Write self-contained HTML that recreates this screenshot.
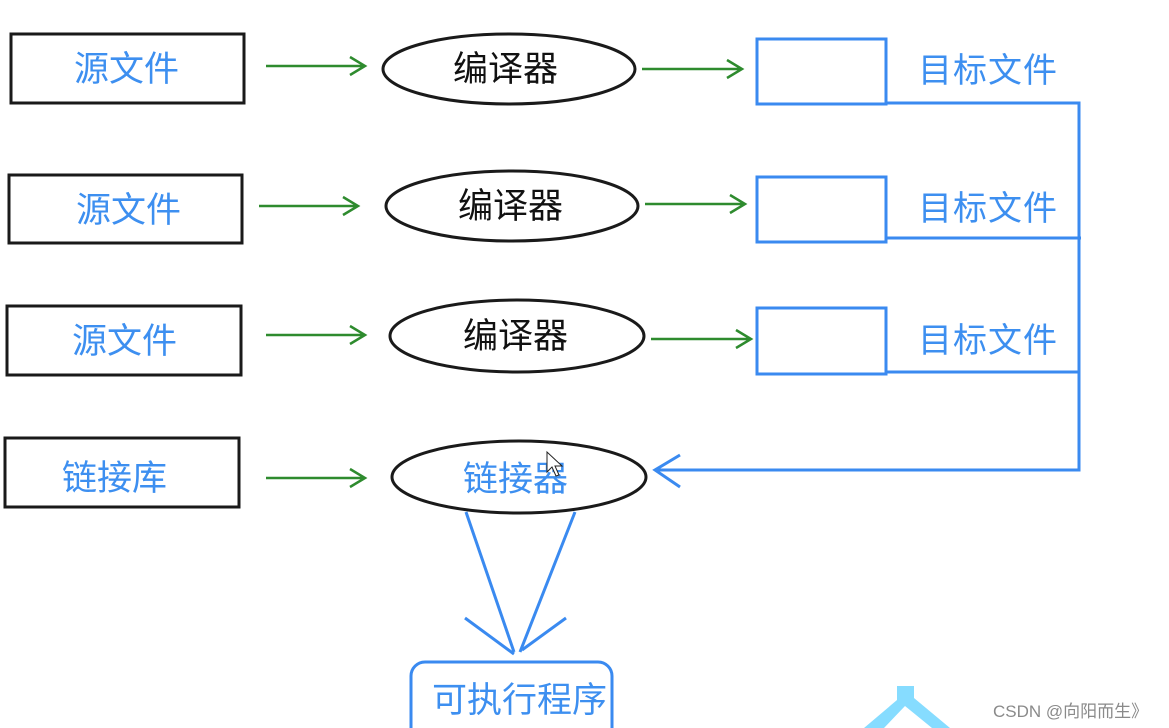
<!DOCTYPE html>
<html><head><meta charset="utf-8"><style>
html,body{margin:0;padding:0;background:#fff;width:1169px;height:728px;overflow:hidden}
text{font-family:"Liberation Sans","Noto Sans CJK SC",sans-serif}
</style></head><body>
<svg width="1169" height="728" viewBox="0 0 1169 728" xmlns="http://www.w3.org/2000/svg">
<g fill="none" stroke="#1a1a1a" stroke-width="3">
<rect x="11" y="34" width="233" height="69"/>
<rect x="9" y="175" width="233" height="68"/>
<rect x="7" y="306" width="234" height="69"/>
<rect x="5" y="438" width="234" height="69"/>
<ellipse cx="509" cy="69" rx="126" ry="35"/>
<ellipse cx="512" cy="206" rx="126" ry="35"/>
<ellipse cx="517" cy="336" rx="127" ry="36"/>
<ellipse cx="519" cy="477" rx="127" ry="36"/>
</g>
<g fill="none" stroke="#2e8b2e" stroke-width="2.5">
<path d="M266 66H365M350 57L365 66L350 75"/>
<path d="M259 206H358M343 197L358 206L343 215"/>
<path d="M266 335H365M350 326L365 335L350 344"/>
<path d="M266 478H365M350 469L365 478L350 487"/>
<path d="M642 69H742M727 60L742 69L727 78"/>
<path d="M645 204H745M730 195L745 204L730 213"/>
<path d="M651 339H751M736 330L751 339L736 348"/>
</g>
<g fill="none" stroke="#3a8af0" stroke-width="3">
<rect x="757" y="39" width="129" height="65"/>
<rect x="757" y="177" width="129" height="65"/>
<rect x="757" y="308" width="129" height="66"/>
<path d="M886 103H1079V470H655M680 455L655 470L680 487"/>
<path d="M886 238H1081M886 372H1079"/>
<path d="M466 512L514 652M575 512L520 652M465 618L514 654M566 618L522 650"/>
<rect x="411" y="662" width="201" height="80" rx="14"/>
</g>
<g fill="#3d8ff0" font-size="35">
<text x="74" y="81">源文件</text>
<text x="76" y="222">源文件</text>
<text x="72" y="353">源文件</text>
<text x="62" y="490">链接库</text>
<text x="918" y="82" letter-spacing="1" font-size="34">目标文件</text>
<text x="918" y="220" letter-spacing="1" font-size="34">目标文件</text>
<text x="918" y="352" letter-spacing="1" font-size="34">目标文件</text>
<text x="463" y="491">链接器</text>
<text x="432" y="712" font-size="35">可执行程序</text>
</g>
<g fill="#111" font-size="35">
<text x="453" y="81">编译器</text>
<text x="458" y="218">编译器</text>
<text x="463" y="348">编译器</text>
</g>
<path d="M547 452L547 472L552 467L556 476L559 475L555 466L562 466Z" fill="#fff" stroke="#222" stroke-width="1"/>
<g fill="#86dcff">
<path d="M897 686H914V698L950 728H932L905 706L884 728H864L897 700Z"/>
</g>
<text x="993" y="717" font-size="17" fill="#8a8a8a">CSDN @向阳而生》</text>
</svg>
</body></html>
